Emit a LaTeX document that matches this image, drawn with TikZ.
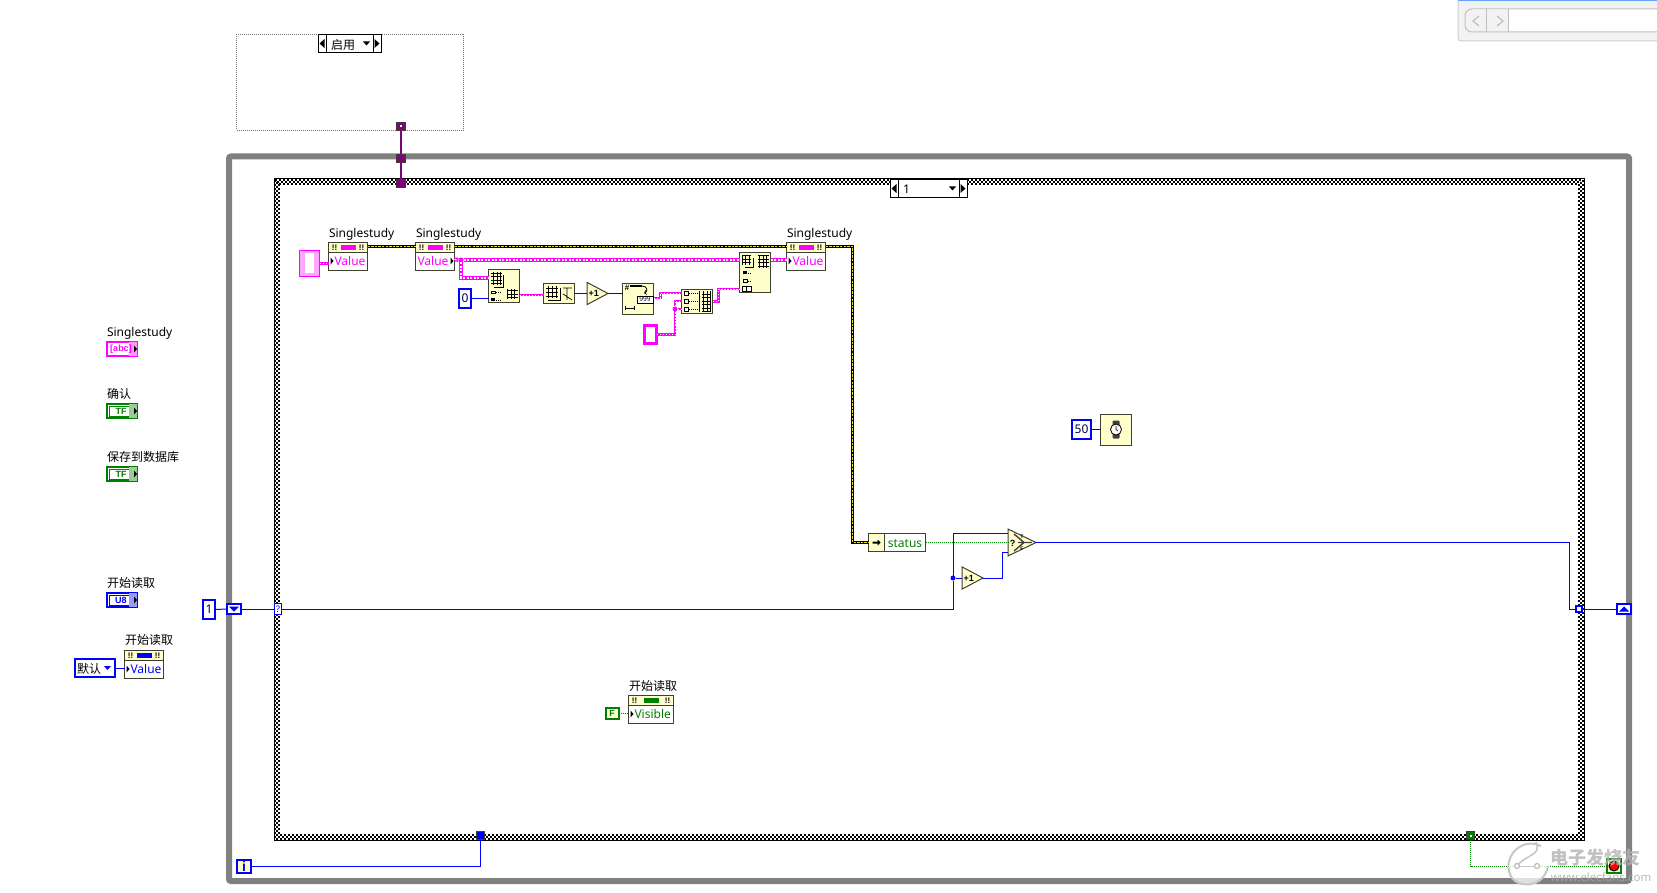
\documentclass[tikz,border=0pt]{standalone}
\usepackage{fontspec}
\setmainfont{Noto Sans}
\newfontfamily\cjk{Noto Sans CJK SC}
\newfontfamily\lvbold{Liberation Sans}
\usetikzlibrary{calc,shapes.geometric,positioning}
\definecolor{lvpink}{RGB}{255,0,255}
\definecolor{lvblue}{RGB}{0,0,255}
\definecolor{lvgreen}{RGB}{0,128,0}
\definecolor{lvpurple}{RGB}{128,0,128}
\definecolor{lvcream}{RGB}{255,255,204}
\definecolor{lvedge}{RGB}{64,64,48}
\definecolor{lvframe}{RGB}{128,128,128}
\tikzset{
  every node/.style={font=\fontsize{12}{14}\selectfont,inner sep=0pt,outer sep=0pt},
  lbl/.style={anchor=base west},
  subvi/.style={rectangle,draw=lvedge,line width=1pt,fill=lvcream},
  incr/.style={isosceles triangle,isosceles triangle apex angle=76,isosceles triangle stretches,
    draw=lvedge,line width=1pt,fill=lvcream,minimum width=21,minimum height=21,anchor=lower side},
  tunnel/.style={rectangle,draw=lvedge,line width=0.8pt,minimum size=8.5},
  constbox/.style={rectangle,draw=lvblue,line width=2pt,fill=white,text=black!75!blue},
  shiftreg/.style={rectangle,draw=lvblue,line width=2pt,fill=white,minimum width=14,minimum height=10},
  blink/.style={circle,minimum size=5},
  bluewire/.style={draw=lvblue,line width=1pt},
  dotwire/.style={draw=lvgreen,line width=1pt,dash pattern=on 1pt off 1pt},
  strwire/.style={draw=lvpink,line width=2.4pt,postaction={draw=white,line width=0.8pt,dash pattern=on 1.5pt off 1.5pt}},
  arrwire/.style={draw=lvpink,line width=4pt,postaction={draw=white,line width=1.2pt,dash pattern=on 2pt off 1.5pt}},
  errwire/.style={draw=black,line width=3.6pt,postaction={draw=yellow!90!black,line width=1.8pt,dash pattern=on 2.4pt off 1.2pt}},
  refwire/.style={draw=lvpurple,line width=2pt},
  checkrow/.style={draw=black,line width=2pt,dash pattern=on 2pt off 2pt},
  gridicon/.style={draw=black,line width=0.7pt},
}
% name, left, top, width, text, colour, text offset, arrow offset
\newcommand{\propnode}[8]{
  \node[rectangle,draw=lvedge,line width=1pt,fill=white,minimum width=#4-1,minimum height=28,anchor=north west] (#1) at (#2+0.5,#3+0.5) {};
  \draw[draw=lvedge,line width=1pt,fill=lvcream] (#1.north west) rectangle ($(#1.north east)+(0,10)$);
  \fill[#6] ($(#1.north)+(-7.5,2.5)$) rectangle ($(#1.north)+(7.5,7.5)$);
  \node[font=\lvbold\fontsize{8}{8}\bfseries] (#1l) at ($(#1.north west)+(6,5)$) {!!};
  \node[font=\lvbold\fontsize{8}{8}\bfseries] (#1r) at ($(#1.north east)+(-6,5)$) {!!};
  \node[anchor=west,text=#6] (#1t) at ($(#1.west)+(#7,4.5)$) {#5};
  \fill[black] ($(#1.west)+(#8,1)$) -- ++(3,3.5) -- ++(-3,3.5) -- cycle;
}
% name, left, top, colour, text, inner line colour
\newcommand{\termnode}[6]{
  \node[rectangle,draw=#4,line width=2pt,fill=white,minimum width=30,minimum height=14,anchor=north west] (#1) at (#2+1,#3+1) {};
  \draw[#6,line width=0.8pt] ($(#1.north west)+(2,2)$) rectangle ($(#1.south east)+(-2,-2)$);
  \fill[#4!40] ($(#1.north east)+(-8,0)$) rectangle (#1.south east);
  \node[font=\lvbold\fontsize{9}{9}\bfseries,text=#4] (#1t) at ($(#1.center)+(-1,0)$) {#5};
  \fill[black] ($(#1.east)+(-3,-3.5)$) -- ++(3,3.5) -- ++(-3,3.5) -- cycle;
}
% name, left, top, width, text
\newcommand{\selnode}[5]{
  \node[rectangle,draw=black,line width=1pt,fill=white,minimum width=#4,minimum height=18,anchor=north west] (#1) at (#2,#3) {};
  \draw[black,line width=1pt] ($(#1.north west)+(8,0)$) -- ($(#1.south west)+(8,0)$);
  \draw[black,line width=1pt] ($(#1.north east)+(-8,0)$) -- ($(#1.south east)+(-8,0)$);
  \fill[black] ($(#1.west)+(1.5,0)$) -- ++(5,-4.5) -- ++(0,9) -- cycle;
  \fill[black] ($(#1.east)+(-1.5,0)$) -- ++(-5,-4.5) -- ++(0,9) -- cycle;
  \fill[black] ($(#1.east)+(-18,-2)$) -- ++(7,0) -- ++(-3.5,4) -- cycle;
  \node[anchor=west] (#1t) at ($(#1.west)+(13,1)$) {#5};
}
\begin{document}
\begin{tikzpicture}[x=1pt,y=-1pt]
\useasboundingbox (0,0) rectangle (1657,893);
% scroll bar piece, top right
\draw[draw=black!20,fill=black!5,line width=1pt,rounded corners=3pt] (1458,-5) -- (1458,41) -- (1665,41) -- (1665,-5) -- cycle;
\fill[blue!60!cyan!60] (1458,0) rectangle (1657,1);
\draw[draw=black!25,fill=white,line width=1pt,rounded corners=7pt] (1665,9) -- (1465,9) -- (1465,32) -- (1665,32);
\fill[black!5,rounded corners=6pt] (1466,10) rectangle (1500,31);
\fill[black!5] (1490,10) rectangle (1508,31);
\draw[draw=black!25,line width=1pt] (1486,9) -- (1486,32) (1508,9) -- (1508,32);
\draw[draw=black!25,line width=1.2pt] (1479,16) -- (1473,21) -- (1479,26) (1497,16) -- (1503,21) -- (1497,26);
% disabled structure
\draw[draw=black!55,line width=1pt,dash pattern=on 1pt off 1pt] (236.5,34.5) rectangle (463.5,130.5);
\selnode{selDis}{318}{34.5}{63}{\cjk 启用}
% while loop frame
\draw[draw=lvframe,line width=6pt,rounded corners=2pt] (229,156.5) rectangle (1629,881);
% case frame
\draw[draw=white,line width=6pt] (277,182) rectangle (1581,837);
\draw[checkrow] (275,180) rectangle (1583,839);
\draw[checkrow] (277,182) rectangle (1581,837);
\draw[checkrow] (279,184) rectangle (1579,835);
\draw[draw=black,line width=1pt] (274,179) rectangle (1584,840);
\selnode{selCase}{890}{179.5}{77}{1}
% panel terminals
\node[lbl] (lblStudy) at (107,336) {Singlestudy};
\termnode{termStudy}{106}{341}{lvpink}{[abc]}{white}
\node[lbl] (lblOk) at (107,398) {\cjk 确认};
\termnode{termOk}{106}{403}{lvgreen}{TF}{lvgreen}
\node[lbl] (lblSave) at (107,461) {\cjk 保存到数据库};
\termnode{termSave}{106}{466}{lvgreen}{TF}{lvgreen}
\node[lbl] (lblRead) at (107,587) {\cjk 开始读取};
\termnode{termRead}{106}{592}{lvblue}{U8}{lvblue}
\node[lbl] (lblReadB) at (125,644) {\cjk 开始读取};
\propnode{propRead}{124}{650}{40}{Value}{lvblue}{6}{2}
\node[constbox,minimum width=40,minimum height=18,anchor=north west] (cstEnum) at (75,659) {};
\node[anchor=west] (cstEnumT) at ($(cstEnum.west)+(2,1)$) {\cjk 默认};
\fill[lvblue] ($(cstEnum.east)+(-11,-2)$) -- ++(7,0) -- ++(-3.5,4) -- cycle;
% property nodes
\node[lbl] (lblA) at (329,238) {Singlestudy};
\propnode{propA}{328}{242}{40}{Value}{lvpink}{6}{2}
\node[lbl] (lblB) at (416,238) {Singlestudy};
\propnode{propB}{415}{242}{40}{Value}{lvpink}{2}{35}
\node[lbl] (lblC) at (787,238) {Singlestudy};
\propnode{propC}{786}{242}{40}{Value}{lvpink}{6}{2}
\node[lbl] (lblV) at (629,690) {\cjk 开始读取};
\propnode{propV}{628}{695}{46}{Visible}{lvgreen}{6}{2}
% array functions
\node[rectangle,draw=lvpink,line width=1pt,fill=lvpink!35,minimum width=20,minimum height=26,anchor=north west] (ctlIn) at (299.5,250.5) {};
\fill[white] ($(ctlIn.center)+(-4.5,-10)$) rectangle ($(ctlIn.center)+(4.5,10)$);
\node[subvi,minimum width=31,minimum height=33,anchor=north west] (fnInit) at (488.5,269.5) {};
\node[subvi,minimum width=31,minimum height=20,anchor=north west] (fnSize) at (543.5,283.5) {};
\node[incr] (incA) at (587,293.5) {\lvbold\fontsize{9}{9}\bfseries +1};
\node[subvi,minimum width=31,minimum height=31,anchor=north west] (fnNum) at (622.5,283.5) {};
\node[subvi,minimum width=31,minimum height=24,anchor=north west] (fnBuild) at (681.5,289.5) {};
\node[subvi,minimum width=31,minimum height=40,anchor=north west] (fnRep) at (739.5,252.5) {};
\node[constbox,minimum width=12,minimum height=19] (cstZero) at (465,298.5) {0};
\node[rectangle,draw=lvpink,line width=3pt,fill=white,minimum width=12,minimum height=18] (cstStr) at (650.5,334.5) {};
\node[blink,fill=lvpink] (junA) at (461,260) {};
\node[blink,fill=lvpink] (junB) at (675,309) {};
% wires
\draw[strwire] (ctlIn.east) -- (ctlIn.east -| propA.west);
\draw[arrwire] ([yshift=11pt]propB.south east) -- (junA);
\draw[arrwire] (junA) -- (junA -| fnRep.west);
\draw[arrwire] (fnRep.east |- junA) -- (propC.west |- junA);
\draw[arrwire] (junA) |- ([yshift=8pt]fnInit.west);
\draw[strwire] ([yshift=-9pt]fnInit.east) -- ([yshift=-1.5pt]fnSize.west);
\draw[bluewire] (cstZero.east) -- (cstZero.east -| fnInit.west);
\draw[bluewire] (fnSize.east) -- (incA.lower side);
\draw[bluewire] (incA.apex) -- (incA.apex -| fnNum.west);
\draw[strwire] ([yshift=1pt]fnNum.east) -- ++(7,0) |- ([yshift=8.5pt]fnBuild.west);
\draw[strwire] (cstStr.east) -| (junB);
\draw[strwire] (junB) |- ([yshift=0.5pt]fnBuild.west);
\draw[strwire] (junB) -- (junB -| fnBuild.west);
\draw[strwire] (fnBuild.east) -- ++(6,0) |- ([yshift=-16.5pt]fnRep.west);
\draw[errwire] ([yshift=-4pt]propA.north east) -- ([yshift=-4pt]propB.north west);
\draw[errwire] ([yshift=-4pt]propB.north east) -- ([yshift=-4pt]propC.north west);
% icons inside the functions
\draw[gridicon,step=3.5pt] (491,272) grid (501.5,285);
\draw[gridicon] (503,275) -- (503,287) -- (494,287);
\draw[gridicon,step=3.5pt] (507,289) grid (517.5,299);
\draw[gridicon,fill=white] (491,291) rectangle (495,293.5);
\fill[black] (491,298.5) rectangle (495,301);
\draw[line width=0.7pt,dash pattern=on 1pt off 1pt] (496,292) -- (502,292) (496,300) -- (502,300);
\draw[gridicon,step=4pt] (546,286) grid (558,298);
\draw[gridicon] (560,288) -- (560,300) -- (548,300);
\draw[gridicon] (563,288) -- (572,288) (567,288) -- (567,300) (563,294) -- (572,300);
\node[font=\lvbold\fontsize{8}{8}\bfseries] (iconHash) at (627,288) {\#};
\draw[line width=1.6pt] (630,286) -- (642,286);
\draw[line width=0.8pt,->] (642,286) .. controls (648,286) and (648,292) .. (644,293);
\node[rectangle,draw=black,line width=0.6pt,fill=white,minimum width=16,minimum height=7,font=\fontsize{6.5}{7}\selectfont] (iconNine) at (645,299.5) {999};
\draw[line width=0.8pt] (625,308) -- (634,308) (625,306) -- (625,310) (634,306) -- (634,310);
\draw[gridicon,step=3.5pt] (702,291) grid (710.5,312);
\draw[gridicon] (699,291) -- (699,312);
\foreach \rowy in {293,301,309}{
  \draw[gridicon,fill=white] (684,\rowy-2) rectangle (688,\rowy+2);
  \draw[line width=0.8pt,dash pattern=on 1pt off 1pt] (689,\rowy) -- (698,\rowy);
}
\draw[gridicon,step=3.5pt] (742,255) grid (751,265);
\draw[gridicon] (753,258) -- (753,267) -- (745,267);
\draw[gridicon,step=3.5pt] (758,255) grid (768.5,268);
\fill[black] (743,271.5) rectangle (747,274.5);
\draw[line width=0.7pt,dash pattern=on 1pt off 1pt] (748,273) -- (752,273) (748,281) -- (752,281);
\draw[gridicon,fill=white] (743,279.5) rectangle (747,282.5);
\draw[gridicon,fill=white] (742,286) rectangle (751,291);
\draw[gridicon] (746.5,286) -- (746.5,291);
% status and select
\node[subvi,fill=white,minimum width=57,minimum height=18,anchor=north west] (unbStatus) at (868.5,533.5) {};
\fill[lvcream,draw=lvedge,line width=1pt] (unbStatus.north west) rectangle ($(unbStatus.south west)+(16,0)$);
\node[text=lvgreen] (unbText) at (905,543.5) {status};
\fill[black] ($(unbStatus.west)+(4,-1)$) -- ++(5,0) -- ++(0,-2) -- ++(3,3) -- ++(-3,3) -- ++(0,-2) -- ++(-5,0) -- cycle;
\node[incr,minimum width=27,minimum height=28,isosceles triangle apex angle=88] (sel) at (1008,542.5) {};
\draw[draw=black!75,line width=1.4pt] (1014,534) -- (1024,542.5) -- (1014,551) (1018,542.5) -- (1032,542.5);
\node[font=\lvbold\fontsize{9}{9}\bfseries] (selQ) at (1012.5,543) {?};
\node[font=\lvbold\fontsize{5}{5}\bfseries] (selT) at (1022,536.5) {T};
\node[font=\lvbold\fontsize{5}{5}\bfseries] (selF) at (1022,548.5) {F};
\node[incr] (incB) at (962,578) {\lvbold\fontsize{9}{9}\bfseries +1};
\node[blink,fill=lvblue] (junC) at (953,578) {};
\draw[errwire] ([yshift=-4pt]propC.north east) -| ($(unbStatus.west)+(-16,0)$) -- (unbStatus.west);
\draw[dotwire] (unbStatus.east) -- (unbStatus.east -| sel.lower side);
% timer
\node[constbox,minimum width=19,minimum height=19] (cstWait) at (1081.5,429.5) {50};
\node[subvi,minimum width=31,minimum height=31] (fnWait) at (1116,429.5) {};
\node[rectangle,fill=black!75,minimum width=7,minimum height=18,rounded corners=1pt] (iconWait) at (fnWait.center) {};
\node[circle,draw=black,fill=white,line width=0.8pt,minimum size=11] (iconFace) at (fnWait.center) {};
\draw[line width=0.6pt] (iconFace.center) -- ++(0,-3.5) (iconFace.center) -- ++(2,1.5);
\draw[bluewire] (cstWait.east) -- (fnWait.west);
% shift registers and tunnels
\node[constbox,minimum width=12,minimum height=19] (cstOne) at (209,609.5) {1};
\node[shiftreg] (srLeft) at (234,609) {};
\fill[lvblue] ($(srLeft)+(-5,-2.5)$) -- ++(10,0) -- ++(-5,5) -- cycle;
\node[rectangle,draw=lvblue,line width=1pt,fill=white,minimum width=7,minimum height=11,font=\fontsize{9}{9}\selectfont,text=lvblue] (tunCase) at (278,609) {?};
\node[shiftreg] (srRight) at (1624,609) {};
\fill[lvblue] ($(srRight)+(-5,2.5)$) -- ++(10,0) -- ++(-5,-5) -- cycle;
\node[tunnel,draw=lvblue,line width=2pt,minimum size=6,fill=white] (tunRight) at (1579,609) {};
\draw[bluewire] (cstOne.east) -- (srLeft.west);
\draw[bluewire] (srLeft.east) -- (tunCase.west);
\draw[bluewire] (tunCase.east) -| (junC);
\draw[bluewire] (junC) |- ([yshift=9.5pt]sel.lower side);
\draw[bluewire] (junC) -- (incB.lower side);
\draw[bluewire] (incB.apex) -- ++(19,0) |- ([yshift=-9.5pt]sel.lower side);
\draw[bluewire] (sel.apex) -| ($(tunRight.west)+(-7,0)$) -- (tunRight.west);
\draw[bluewire] (tunRight.east) -- (srRight.west);
\draw[bluewire] (cstEnum.east) -- (cstEnum.east -| propRead.west);
% purple refnum
\node[tunnel,fill=lvpurple] (tunDis) at (401,126.5) {};
\node[tunnel,fill=lvpurple] (tunLoop) at (401,158.5) {};
\node[tunnel,fill=lvpurple] (tunRef) at (401,183.5) {};
\fill[white] ($(tunDis)+(-1,-1)$) rectangle ($(tunDis)+(1,1)$);
\draw[refwire] (tunDis.south) -- (tunLoop.north);
\draw[refwire] (tunLoop.south) -- (tunRef.north);
% visible constant
\node[rectangle,draw=lvgreen,line width=2pt,fill=lvcream,minimum width=13,minimum height=11,font=\lvbold\fontsize{9}{9}\bfseries,text=lvgreen] (cstF) at (612,713) {F};
\draw[dotwire] (cstF.east) -- (cstF.east -| propV.west);
% iteration and stop
\node[rectangle,draw=lvblue,line width=2pt,fill=lvcream,minimum width=14,minimum height=13,font=\lvbold\fontsize{14}{14}\bfseries,text=lvblue] (iterI) at (244,866) {i};
\node[tunnel,fill=lvblue] (tunIter) at (480.5,835.5) {};
\draw[bluewire] (iterI.east) -| (tunIter.south);
\node[rectangle,draw=lvgreen,line width=1.5pt,fill=lvcream,minimum size=14] (stopT) at (1614,866) {};
\node[circle,draw=black,fill=red,line width=1pt,minimum size=10] (stopR) at (stopT.center) {};
\node[tunnel,fill=lvgreen] (tunStop) at (1470.5,835.5) {};
\fill[white] ($(tunStop)+(-1,-1)$) rectangle ($(tunStop)+(1,1)$);
\draw[dotwire] (tunStop.south) |- (stopT.west);
% watermark
\fill[white,opacity=0.75] (1528,864) circle (21);
\draw[draw=black!22,line width=2pt] (1541,846) .. controls (1520,836) and (1500,860) .. (1512,878) .. controls (1522,890) and (1545,885) .. (1548,866);
\draw[draw=black!22,line width=1.6pt] (1536,842) .. controls (1542,856) and (1526,854) .. (1517,866);
\draw[draw=black!22,line width=1pt] (1517,866) -- (1537,866);
\draw[draw=black!30,line width=1pt,fill=white] (1517,866) circle (2.5) (1537,866) circle (2.5);
\node[font=\cjk\fontsize{18}{20}\selectfont\bfseries,text=black!30,opacity=0.8] (wmCn) at (1595,858) {电子发烧友};
\node[font=\fontsize{11.5}{13}\selectfont\bfseries,text=black!35,opacity=0.8] (wmEn) at (1601,877) {www.elecfans.com};
\end{tikzpicture}
\end{document}
